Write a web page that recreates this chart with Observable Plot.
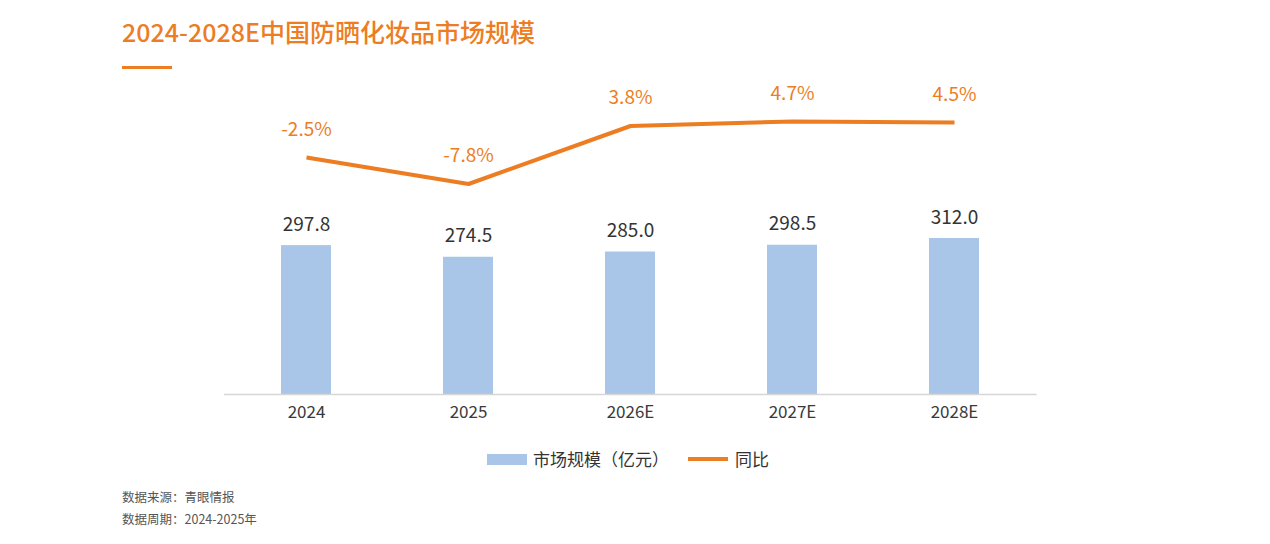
<!DOCTYPE html>
<html>
<head>
<meta charset="utf-8">
<script src="https://cdn.jsdelivr.net/npm/d3@7"></script>
<script src="https://cdn.jsdelivr.net/npm/@observablehq/plot@0.6"></script>
<style>
  html, body { margin: 0; padding: 0; background: #fff; }
  #page {
    position: relative; width: 1270px; height: 544px; overflow: hidden;
    font-family: "Noto Sans CJK SC", "Noto Sans", sans-serif;
  }
  #title {
    position: absolute; left: 122px; top: 13px; margin: 0;
    font-size: 25px; font-weight: 500; color: #ED7D22;
    line-height: 36px;
  }
  #rule {
    position: absolute; left: 122px; top: 66px; width: 50px; height: 3px; background: #ED7D22;
  }
  #chart { position: absolute; left: 0; top: 70px; }
  #legend {
    position: absolute; top: 447px; left: 487px; display: flex; align-items: center;
    font-size: 17px; color: #333; line-height: 24px;
  }
  #legend .sw-bar { width: 40px; height: 11px; background: #A9C6E8; margin-right: 6px; }
  #legend .sw-line { width: 40px; height: 4px; background: #ED7D22; margin-left: 19px; margin-right: 7px; }
  .note { position: absolute; left: 122px; font-size: 12.5px; color: #555; line-height: 16px; }
</style>
</head>
<body>
<div id="page">
  <h1 id="title">2024-2028E中国防晒化妆品市场规模</h1>
  <div id="rule"></div>
  <div id="chart"></div>
  <div id="legend">
    <div class="sw-bar"></div><span>市场规模（亿元）</span>
    <div class="sw-line"></div><span>同比</span>
  </div>
  <div class="note" style="top:489px">数据来源：青眼情报</div>
  <div class="note" style="top:511px">数据周期：2024-2025年</div>
</div>
<script>
// Market size (100 million yuan) and year-on-year growth (%)
const years = ["2024", "2025", "2026E", "2027E", "2028E"];
const marketSize = [297.8, 274.5, 285.0, 298.5, 312.0];
const yoyGrowth = [-2.5, -7.8, 3.8, 4.7, 4.5];

const rows = years.map((year, i) => ({ year, size: marketSize[i], yoy: yoyGrowth[i] }));

// Growth rates sit on a secondary axis: map percent onto the bar scale's units
const yoyToBar = v => 499 + 10 * v;

const orange = "#ED7D22";
const blue = "#A9C6E8";

const chart = Plot.plot({
  width: 1270,
  height: 370,
  marginLeft: 224,
  marginRight: 233.5,
  marginTop: 14,
  marginBottom: 46,
  style: { fontFamily: "'Noto Sans CJK SC', 'Noto Sans', sans-serif", background: "transparent" },
  x: { domain: years, paddingInner: 0.69, paddingOuter: 0.345, label: null },
  y: { domain: [0, 620], axis: null },
  marks: [
    Plot.barY(rows, { x: "year", y: "size", fill: blue }),
    Plot.ruleY([0], { stroke: "#D6D6D6", strokeWidth: 1.5 }),
    Plot.axisX({ tickSize: 0, tickPadding: 11, fontSize: 17, color: "#3a3a3a", label: null }),
    Plot.text(rows, {
      x: "year", y: "size", text: d => d.size.toFixed(1),
      dy: -21, fontSize: 19, fill: "#333"
    }),
    Plot.line(rows, {
      x: "year", y: d => yoyToBar(d.yoy),
      stroke: orange, strokeWidth: 4, strokeLinejoin: "miter", strokeLinecap: "butt"
    }),
    Plot.text(rows, {
      x: "year", y: d => yoyToBar(d.yoy), text: d => d.yoy.toFixed(1) + "%",
      dy: -28, fontSize: 19, fill: orange
    })
  ]
});

document.getElementById("chart").appendChild(chart);
</script>
</body>
</html>
